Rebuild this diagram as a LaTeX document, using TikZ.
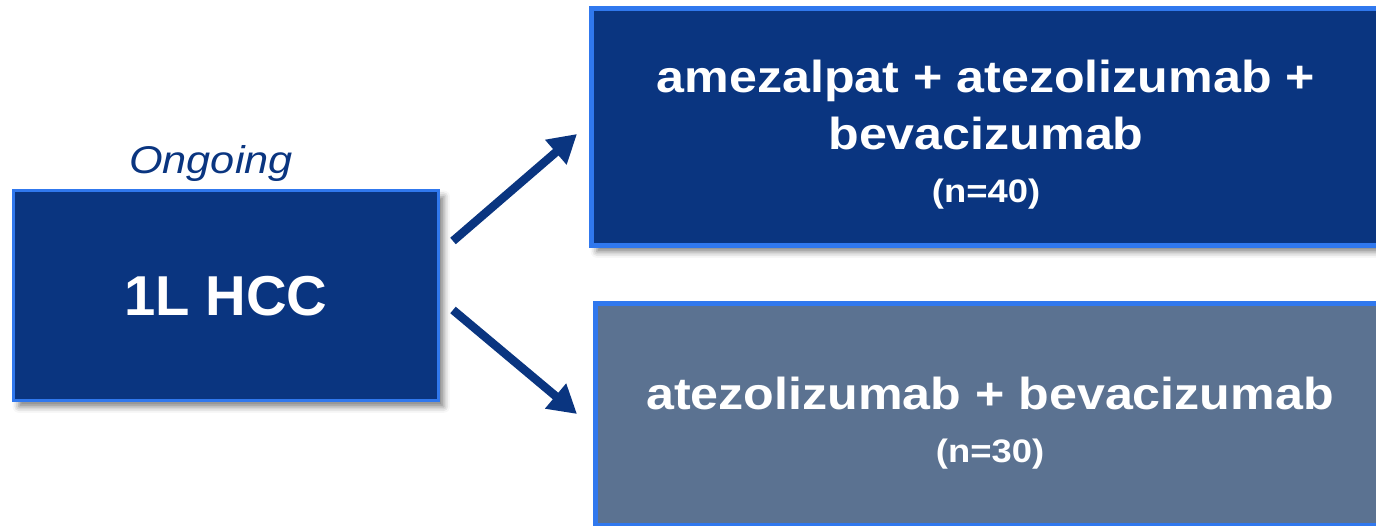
\documentclass[tikz,border=0pt]{standalone}
\usepackage{fontspec}
\setmainfont{Liberation Sans}
\newfontfamily\widesans[FakeStretch=1.12]{Liberation Sans}
\newfontfamily\ongofont[FakeStretch=1.12]{Liberation Sans}
\usetikzlibrary{arrows.meta,shadows.blur}
\definecolor{navy}{RGB}{10,53,128}
\definecolor{edgeblue}{RGB}{48,120,238}
\definecolor{slate}{RGB}{91,114,145}
\tikzset{
	armbox/.style={draw=edgeblue, line width=0.1cm, inner sep=0pt,
		blur shadow={shadow xshift=3pt, shadow yshift=-3.5pt, shadow blur radius=3.5pt, shadow opacity=50}},
	armtext/.style={text=white, align=center, font=\widesans\bfseries\fontsize{25.5}{32.3}\selectfont},
	arm/.style={navy, line width=0.17cm, -{Triangle[length=0.56cm,width=0.62cm]}}
}
\begin{document}
\begin{tikzpicture}
		\path[use as bounding box, clip] (0,0) rectangle (27.52,10.52);
		\coordinate (S1) at (9.06,5.70);
		\coordinate (E1) at (11.54,7.84);
		\coordinate (S2) at (9.06,4.32);
		\coordinate (E2) at (11.54,2.24);
		\node[armbox, line width=0.06cm, fill=navy, minimum width=8.5cm, minimum height=4.2cm] (hcc) at (4.52,4.61) {};
		\node[text=white, font=\bfseries\fontsize{32}{40}\selectfont] (hcctxt) at ([yshift=-0.02cm]hcc.center) {1L HCC};
		\node[anchor=base, text=navy, font=\ongofont\itshape\fontsize{22}{26}\selectfont] (ongoing) at (4.22,7.05) {Ongoing};
		\node[armbox, fill=navy, minimum width=15.78cm, minimum height=4.74cm] (combo) at (19.72,7.98) {};
		\node[armtext] (combotxt) at (19.72,7.82) {amezalpat + atezolizumab +\\bevacizumab\\[-2pt]{\fontsize{18.5}{22}\selectfont (n=40)}};
		\node[armbox, fill=slate, minimum width=15.78cm, minimum height=4.44cm] (ctrl) at (19.8,2.23) {};
		\node[armtext] (ctrltxt) at (19.8,2.06) {atezolizumab + bevacizumab\\[-2pt]{\fontsize{18.5}{22}\selectfont (n=30)}};
		\draw[arm] (S1) -- (E1);
		\draw[arm] (S2) -- (E2);
	\end{tikzpicture}
\end{document}
